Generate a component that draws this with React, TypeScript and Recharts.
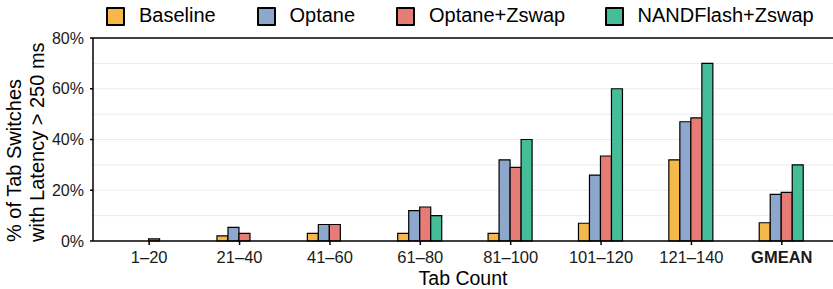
import React from 'react';
import { BarChart, Bar, XAxis, YAxis, CartesianGrid, ReferenceLine } from 'recharts';

const categories = ['1–20', '21–40', '41–60', '61–80', '81–100', '101–120', '121–140', 'GMEAN'];
const baseline = [0, 2, 3, 3, 3, 7, 32, 7.2];
const optane = [0, 5.4, 6.5, 12, 32, 26, 47, 18.4];
const optaneZswap = [0.8, 3, 6.5, 13.4, 29, 33.5, 48.5, 19.2];
const nandZswap = [0, 0, 0, 10, 40, 60, 70, 30];
const yTicks = [0, 20, 40, 60, 80];
const minorGrid = [10, 20, 30, 40, 50, 60, 70];

const series = [
  { key: 'baseline', name: 'Baseline', color: '#F5B84A' },
  { key: 'optane', name: 'Optane', color: '#8DA8CC' },
  { key: 'optaneZswap', name: 'Optane+Zswap', color: '#E57D76' },
  { key: 'nandZswap', name: 'NANDFlash+Zswap', color: '#45BD98' },
];

const data = categories.map((name, i) => ({
  name,
  baseline: baseline[i],
  optane: optane[i],
  optaneZswap: optaneZswap[i],
  nandZswap: nandZswap[i],
}));

const FONT = '"Liberation Sans", Arial, sans-serif';

// подпись оси X, GMEAN жирным
const XTick = (props: any) => {
  const { x, y, payload } = props;
  const bold = payload.value === 'GMEAN';
  return (
    <text x={x} y={y} dy="0.71em" textAnchor="middle" fontFamily={FONT} fontSize={16.5}
      fill="#1a1a1a" fontWeight={bold ? 'bold' : 'normal'}>
      {payload.value}
    </text>
  );
};

const XTitle = (props: any) => {
  const { viewBox } = props;
  return (
    <text x={viewBox.x + viewBox.width / 2} y={viewBox.y + viewBox.height - 4} textAnchor="middle"
      fontFamily={FONT} fontSize={19.5} fill="#000">Tab Count</text>
  );
};

// две строки, выровнены по низу
const YTitle = () => (
  <g fontFamily={FONT} fontSize={20} fill="#000">
    <text transform="translate(21,242) rotate(-90)" textAnchor="start">% of Tab Switches</text>
    <text transform="translate(44,242) rotate(-90)" textAnchor="start">with Latency &gt; 250 ms</text>
  </g>
);

const legendText = [139, 289.5, 429, 637.5];

export default function App() {
  return (
    <div style={{ position: 'absolute', left: 0, top: 0, width: 833, height: 289, background: '#fff' }}>
      <div style={{ position: 'absolute', left: 0, top: 0, width: 833, height: 34, fontFamily: FONT, fontSize: 20 }}>
        {series.map((s, i) => (
          <React.Fragment key={s.key}>
            <div style={{ position: 'absolute', left: legendText[i] - 33, top: 7, width: 15, height: 15,
              background: s.color, border: '2px solid #000', borderRadius: 1 }} />
            <span style={{ position: 'absolute', left: legendText[i], top: 4, lineHeight: '23px', color: '#000' }}>
              {s.name}
            </span>
          </React.Fragment>
        ))}
      </div>
      <BarChart width={833} height={289} data={data} margin={{ top: 38, right: 0, left: 0, bottom: 0 }}
        barCategoryGap="25%" barGap={0}>
        <CartesianGrid vertical={false} horizontalValues={minorGrid} stroke="#EBEBEB" strokeWidth={1} />
        <ReferenceLine y={80} stroke="#000" strokeWidth={1.5} />
        <XAxis dataKey="name" interval={0} tick={<XTick />} tickSize={4} tickMargin={6}
          axisLine={{ stroke: '#000', strokeWidth: 1.5 }} tickLine={{ stroke: '#000', strokeWidth: 1.5 }}
          padding={{ left: 11, right: 6 }} height={48} label={<XTitle />} />
        <YAxis width={93} domain={[0, 80]} ticks={yTicks} tickFormatter={(v: number) => `${v}%`}
          tick={{ fontFamily: FONT, fontSize: 16, fill: '#1a1a1a' }} tickSize={3} tickMargin={6}
          axisLine={{ stroke: '#000', strokeWidth: 1.5 }} tickLine={{ stroke: '#000', strokeWidth: 1.5 }}
          label={<YTitle />} />
        {series.map(s => (
          <Bar key={s.key} dataKey={s.key} name={s.name} fill={s.color} stroke="#000" strokeWidth={1.2}
            isAnimationActive={false} />
        ))}
      </BarChart>
    </div>
  );
}
